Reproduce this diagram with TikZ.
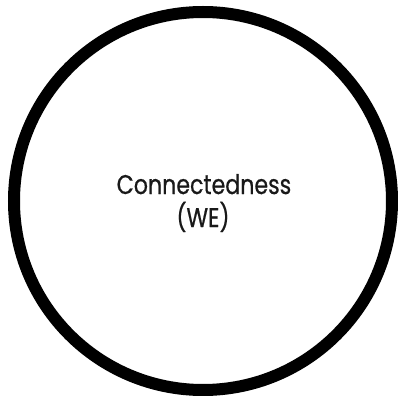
\documentclass[tikz,border=0pt]{standalone}
\usepackage{fontspec}
\setmainfont{Poppins}
\newfontfamily\lblfont[FakeStretch=0.82,FakeBold=0.6]{Poppins}
\tikzset{ring/.style={draw=black, line width=12bp}, lbl/.style={anchor=base, inner sep=0pt, font=\lblfont\fontsize{27bp}{33bp}\selectfont, text=black!90}}
\begin{document}
\begin{tikzpicture}[x=1bp,y=1bp]
\useasboundingbox (0,0) rectangle (398,396);
\node[ring, circle, minimum size=378bp, inner sep=0pt] (c) at (203,195) {};
\node[lbl] (t1) at (204,202) {Connectedness};
\node[lbl] (t2) at (203,169) {(WE)};
\end{tikzpicture}
\end{document}
